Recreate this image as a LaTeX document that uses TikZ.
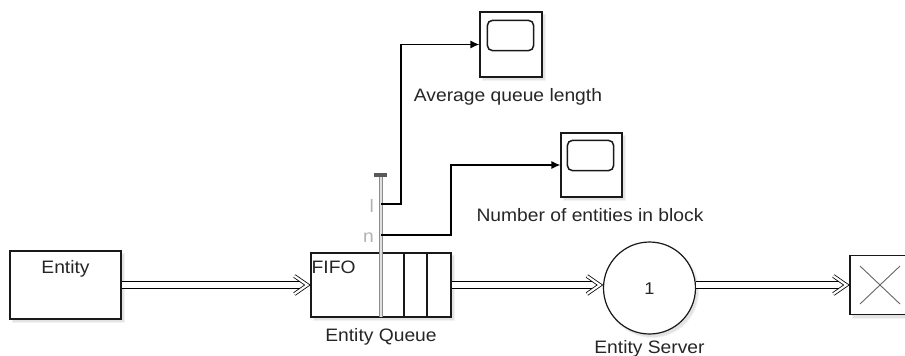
\documentclass[tikz,border=0pt]{standalone}
\usepackage{fontspec}
\setmainfont[FakeStretch=1.07]{Liberation Sans}
\usetikzlibrary{shadows,arrows.meta}
\begin{document}
\begin{tikzpicture}[x=1pt,y=-1pt,
  blk/.style={draw=black!90, line width=1.2pt, fill=white, inner sep=0pt,
    drop shadow={shadow xshift=2.5pt, shadow yshift=-3pt, fill=black!22, draw=black!10, line width=2pt}},
  txt/.style={inner sep=0pt, text=black!85, font=\fontsize{18}{20}\selectfont},
  porttxt/.style={inner sep=0pt, text=black!30, font=\fontsize{18}{20}\selectfont},
  eline/.style={draw=black, line width=1pt, double=white, double distance=5.5pt},
  chev/.style={draw=black, line width=0.8pt, double=white, double distance=2.2pt, line join=miter},
  sig/.style={draw=black, line width=1.2pt, -{Latex[length=9pt,width=8pt]}},
  scin/.style={draw=black!90, line width=1.5pt, rounded corners=5pt}
]
\useasboundingbox (0,0) rectangle (905,356);
\newcommand\entchev[1]{\draw[chev] ([xshift=-16pt,yshift=9pt]#1) -- ([xshift=-3pt]#1) -- ([xshift=-16pt,yshift=-9pt]#1);}

% blocks
\node[blk, minimum width=111pt, minimum height=68pt] (ent) at (65.5,285) {};
\node[txt, anchor=base] (entlbl) at (65.5,273) {Entity};

\node[blk, minimum width=140pt, minimum height=64pt] (queue) at (381,285) {};
\draw[black!90, line width=1.2pt] (404,253) -- (404,317) (427,253) -- (427,317);
\node[txt, anchor=base west] (fifo) at (311.5,273) {FIFO};
\node[txt, anchor=base] (qlbl) at (381,341) {Entity Queue};

% port stem
\draw[draw=black!45, line width=0.9pt, double=black!12, double distance=2.4pt] (381,175) -- (381,317);
\fill[black!65] (374,172.5) rectangle (387,176.5);
\coordinate (pl) at (381,204);
\coordinate (pn) at (381,235);
\node[porttxt, anchor=base east] (ll) at (374,212) {l};
\node[porttxt, anchor=base east] (nl) at (374,242) {n};

\node[blk, circle, minimum size=92pt] (srv) at (649.5,288) {};
\node[inner sep=0pt, text=black!85, anchor=base, font=\fontsize{17}{19}\selectfont] (one) at (649.5,294) {1};
\node[txt, anchor=base] (slbl) at (649.5,353) {Entity Server};

\node[blk, minimum width=60pt, minimum height=59pt] (term) at (880,285) {};
\draw[black!60, line width=0.9pt] ([xshift=-20pt,yshift=19pt]term.center) -- ([xshift=20pt,yshift=-19pt]term.center)
  ([xshift=20pt,yshift=19pt]term.center) -- ([xshift=-20pt,yshift=-19pt]term.center);

\node[blk, minimum width=62pt, minimum height=65pt] (sc1) at (511,44.5) {};
\draw[scin] ([xshift=8pt,yshift=-9pt]sc1.north west) rectangle ([xshift=-9pt,yshift=27pt]sc1.south east);
\node[txt, anchor=base] (sc1lbl) at (508,101) {Average queue length};

\node[blk, minimum width=61pt, minimum height=64pt] (sc2) at (591.5,165) {};
\draw[scin] ([xshift=7pt,yshift=-8pt]sc2.north west) rectangle ([xshift=-9pt,yshift=27pt]sc2.south east);
\node[txt, anchor=base] (sc2lbl) at (590,221) {Number of entities in block};

% entity connectors
\draw[eline] (ent.east) -- ([xshift=-6pt]queue.west);
\entchev{queue.west}
\draw[eline] (queue.east) -- ([xshift=-6pt]queue.east -| srv.west);
\entchev{queue.east -| srv.west}
\draw[eline] (srv.east |- term.west) -- ([xshift=-6pt]term.west);
\entchev{term.west}

% signal lines
\draw[sig] (pl) -- ++(20,0) |- (sc1.west);
\draw[sig] (pn) -- ++(70,0) |- (sc2.west);
\end{tikzpicture}
\end{document}
